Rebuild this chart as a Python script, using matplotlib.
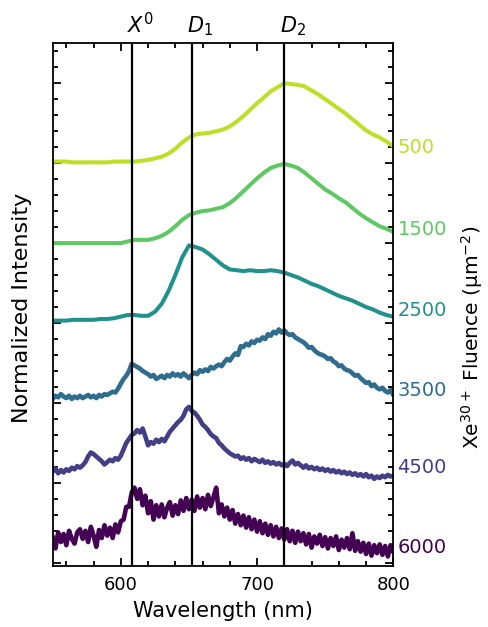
import numpy as np
import matplotlib
matplotlib.use("Agg")
import matplotlib.pyplot as plt
from matplotlib.ticker import MultipleLocator, AutoMinorLocator
import matplotlib.transforms as mtransforms

# === Data (offset spectra, y in stacked units) ===
fluences = ["500", "1500", "2500", "3500", "4500", "6000"]
peak_names = ["$X^0$", "$D_1$", "$D_2$"]
peak_wl = [608, 652, 720]

# smooth spectra sampled every 5 nm from 550 to 800
wl_smooth = list(range(550, 801, 5))
y_500 = [5.02, 5.02, 5.02, 5.01, 5.01, 5.01, 5.01, 5.01, 5.01, 5.02, 5.02, 5.02, 5.02,
         5.03, 5.04, 5.06, 5.08, 5.12, 5.18, 5.26, 5.32, 5.36, 5.37, 5.38, 5.40, 5.42,
         5.46, 5.52, 5.59, 5.67, 5.75, 5.82, 5.90, 5.95, 6.00, 5.99, 5.98, 5.96, 5.91,
         5.86, 5.80, 5.74, 5.68, 5.62, 5.55, 5.48, 5.41, 5.36, 5.32, 5.27, 5.21]
y_1500 = [4.00, 4.00, 4.00, 4.00, 4.00, 4.00, 4.00, 4.00, 4.00, 4.00, 4.00,
          4.02, 4.04, 4.04, 4.04, 4.06, 4.09, 4.14, 4.21, 4.29, 4.35, 4.38, 4.40, 4.41,
          4.43, 4.45, 4.50, 4.57, 4.65, 4.73, 4.81, 4.88, 4.94, 4.97, 4.99, 4.97, 4.94,
          4.88, 4.81, 4.74, 4.67, 4.62, 4.56, 4.51, 4.44, 4.37, 4.31, 4.26, 4.21, 4.18, 4.14]
y_2500 = [3.03, 3.03, 3.03, 3.04, 3.04, 3.04, 3.04, 3.05, 3.05, 3.06, 3.08, 3.10, 3.10,
          3.09, 3.09, 3.14, 3.24, 3.40, 3.60, 3.82, 3.97, 3.95, 3.92, 3.86, 3.79, 3.72,
          3.67, 3.66, 3.65, 3.66, 3.65, 3.65, 3.66, 3.65, 3.63, 3.60, 3.57, 3.53, 3.49,
          3.46, 3.42, 3.38, 3.34, 3.31, 3.28, 3.24, 3.20, 3.17, 3.13, 3.10, 3.08]

# noisy spectra sampled every 2 nm from 550 to 800
wl_noisy = list(range(550, 801, 2))
y_3500 = [2.05, 2.09, 2.07, 2.11, 2.08, 2.06, 2.09, 2.05, 2.08, 2.06,
          2.09, 2.06, 2.08, 2.10, 2.07, 2.09, 2.06, 2.10, 2.08, 2.11,
          2.10, 2.12, 2.14, 2.13, 2.18, 2.24, 2.30, 2.34, 2.40, 2.49,
          2.47, 2.45, 2.43, 2.40, 2.38, 2.36, 2.33, 2.35, 2.30, 2.32,
          2.34, 2.31, 2.35, 2.33, 2.37, 2.34, 2.36, 2.33, 2.37, 2.34,
          2.31, 2.35, 2.38, 2.36, 2.41, 2.39, 2.42, 2.40, 2.45, 2.43,
          2.46, 2.48, 2.46, 2.51, 2.55, 2.53, 2.58, 2.62, 2.60, 2.71,
          2.70, 2.74, 2.72, 2.77, 2.75, 2.79, 2.78, 2.82, 2.80, 2.86,
          2.84, 2.89, 2.87, 2.92, 2.88, 2.91, 2.87, 2.85, 2.86, 2.82,
          2.80, 2.78, 2.76, 2.73, 2.69, 2.70, 2.66, 2.63, 2.61, 2.60,
          2.58, 2.55, 2.56, 2.52, 2.50, 2.46, 2.47, 2.43, 2.41, 2.40,
          2.37, 2.34, 2.35, 2.31, 2.28, 2.25, 2.26, 2.21, 2.23, 2.19,
          2.17, 2.19, 2.15, 2.13, 2.16, 2.10]
y_4500 = [1.14, 1.18, 1.12, 1.16, 1.13, 1.17, 1.15, 1.19, 1.17, 1.21,
          1.19, 1.22, 1.26, 1.33, 1.38, 1.36, 1.33, 1.30, 1.27, 1.23,
          1.26, 1.29, 1.27, 1.31, 1.29, 1.34, 1.42, 1.50, 1.55, 1.60,
          1.62, 1.66, 1.63, 1.68, 1.58, 1.47, 1.51, 1.49, 1.54, 1.51,
          1.55, 1.52, 1.58, 1.64, 1.68, 1.72, 1.76, 1.79, 1.84, 1.92,
          1.95, 1.90, 1.88, 1.84, 1.79, 1.73, 1.70, 1.66, 1.61, 1.58,
          1.56, 1.50, 1.47, 1.43, 1.40, 1.37, 1.35, 1.33, 1.34, 1.30,
          1.32, 1.29, 1.31, 1.27, 1.30, 1.28, 1.26, 1.29, 1.25, 1.27,
          1.24, 1.26, 1.23, 1.25, 1.22, 1.24, 1.21, 1.25, 1.28, 1.23,
          1.25, 1.22, 1.19, 1.22, 1.18, 1.20, 1.17, 1.19, 1.16, 1.18,
          1.15, 1.17, 1.14, 1.16, 1.13, 1.15, 1.12, 1.14, 1.11, 1.13,
          1.10, 1.12, 1.09, 1.11, 1.08, 1.11, 1.07, 1.09, 1.05, 1.08,
          1.06, 1.09, 1.07, 1.10, 1.08, 1.09]
y_6000 = [0.32, 0.18, 0.38, 0.26, 0.36, 0.22, 0.40, 0.30, 0.24, 0.38,
          0.42, 0.30, 0.40, 0.26, 0.45, 0.34, 0.20, 0.41, 0.31, 0.47,
          0.34, 0.44, 0.31, 0.48, 0.38, 0.52, 0.54, 0.70, 0.70, 0.88,
          0.94, 0.80, 0.92, 0.72, 0.84, 0.62, 0.77, 0.54, 0.72, 0.58,
          0.73, 0.57, 0.69, 0.76, 0.59, 0.72, 0.61, 0.78, 0.65, 0.81,
          0.67, 0.79, 0.65, 0.83, 0.69, 0.81, 0.67, 0.85, 0.71, 0.82,
          0.94, 0.62, 0.73, 0.58, 0.69, 0.54, 0.66, 0.49, 0.61, 0.47,
          0.59, 0.44, 0.57, 0.42, 0.54, 0.39, 0.52, 0.37, 0.49, 0.35,
          0.47, 0.33, 0.45, 0.31, 0.43, 0.29, 0.42, 0.27, 0.40, 0.25,
          0.39, 0.27, 0.37, 0.23, 0.36, 0.19, 0.33, 0.24, 0.35, 0.21,
          0.32, 0.18, 0.31, 0.21, 0.33, 0.16, 0.29, 0.19, 0.31, 0.17,
          0.37, 0.15, 0.27, 0.14, 0.25, 0.11, 0.24, 0.09, 0.22, 0.12,
          0.23, 0.10, 0.21, 0.08, 0.22, 0.14]

label_y = [5.20, 4.17, 3.16, 2.16, 1.19, 0.19]

# === Figure ===
fig = plt.figure(figsize=(4.89, 6.27), dpi=100)
ax = fig.add_axes([0.1078, 0.0973, 0.6965, 0.8337])

colors = plt.cm.viridis([0.9, 0.75, 0.5, 0.35, 0.18, 0.0])
series = [(wl_smooth, y_500), (wl_smooth, y_1500), (wl_smooth, y_2500),
          (wl_noisy, y_3500), (wl_noisy, y_4500), (wl_noisy, y_6000)]
widths = [2.9, 2.9, 2.9, 3.3, 3.3, 3.3]

for (wl, y), c, lw in zip(series, colors, widths):
    ax.plot(wl, y, color=c, lw=lw, solid_joinstyle='round', zorder=2)

for w in peak_wl:
    ax.axvline(w, color='k', lw=1.6, zorder=3)

trans = mtransforms.blended_transform_factory(ax.transData, ax.transAxes)
for name, w in zip(peak_names, peak_wl):
    ax.text(w - 3.5, 1.02, name, transform=trans, ha='left', va='baseline', fontsize=15)

for lab, yl, c in zip(fluences, label_y, colors):
    ax.text(803, yl, lab, color=c, fontsize=14, ha='left', va='center', clip_on=False)

ax.set_xlim(550, 800)
ax.set_ylim(-0.04, 6.5)
ax.xaxis.set_major_locator(MultipleLocator(100))
ax.xaxis.set_minor_locator(AutoMinorLocator(5))
ax.yaxis.set_major_locator(MultipleLocator(1))
ax.yaxis.set_minor_locator(AutoMinorLocator(5))
ax.tick_params(which='both', direction='in', top=True, right=True, width=1.3)
ax.tick_params(which='major', length=6)
ax.tick_params(which='minor', length=3.5)
ax.tick_params(axis='x', labelsize=13, pad=7)
ax.set_yticklabels([])
for s in ax.spines.values():
    s.set_linewidth(1.3)

ax.set_xlabel("Wavelength (nm)", fontsize=15, labelpad=5)
fig.text(22 / 489, 1 - 308 / 627, "Normalized Intensity", rotation=90,
         ha='center', va='center', fontsize=16)
fig.text(472 / 489, 1 - 337 / 627, "Xe$^{30+}$ Fluence (μm$^{-2}$)", rotation=90,
         ha='center', va='center', fontsize=14.5)

fig.savefig("out.png", dpi=100)
